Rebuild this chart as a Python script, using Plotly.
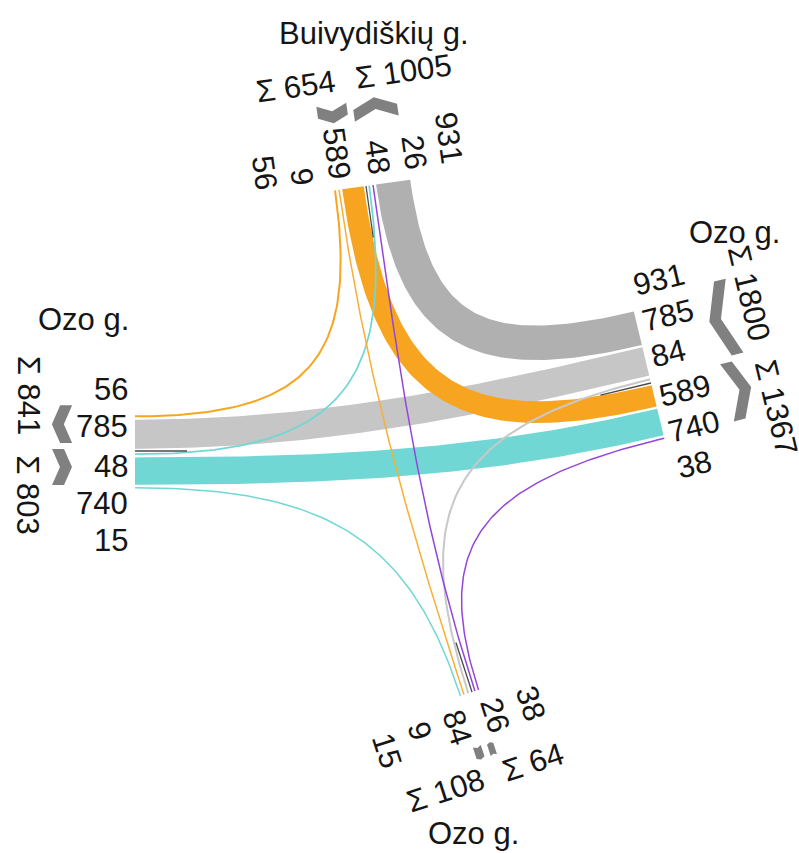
import math
import plotly.graph_objects as go

# ---------------- data ----------------
arms = ["N", "E", "S", "W"]                       # clockwise around the junction
arm_names = ["Buivydiškių g.", "Ozo g.", "Ozo g.", "Ozo g."]
origins = ["N", "N", "N", "E", "E", "E", "W", "W", "W", "S", "S"]
destinations = ["W", "S", "E", "N", "W", "S", "N", "E", "S", "N", "E"]
volumes = [56, 9, 589, 931, 785, 84, 48, 740, 15, 26, 38]

# ---------------- styling / geometry ----------------
FIG_W, FIG_H = 799, 853
FONT = "Liberation Sans, Arial, sans-serif"
FS = 31
SCALE = 0.037                # px per vehicle
GAP = 2.3
MINW = 1.5
TEXT_COLOR = "#151515"
CHEV_COLOR = "#808080"

GEOM = {
    "N": dict(sep=(366, 186), ang=-98.0, lbl_gap=10, chev_off=76, sig_off=108, name=(374, 33)),
    "E": dict(sep=(651, 383), ang=-13.5, lbl_gap=6, chev_off=84, sig_off=116, name=(734, 232)),
    "S": dict(sep=(472, 692), ang=72.0, lbl_gap=12, chev_off=60, sig_off=86, name=(473, 833)),
    "W": dict(sep=(135, 451), ang=180.0, lbl_gap=7, chev_off=73, sig_off=107, name=(83, 319)),
}

COLORS = {
    ("N", "W"): "#F7A520", ("N", "S"): "#F7B030", ("N", "E"): "#F7A520",
    ("E", "N"): "#B0B0B0", ("E", "W"): "#C6C6C6", ("E", "S"): "#C8C8C8",
    ("W", "N"): "#70D7D4", ("W", "E"): "#70D7D4", ("W", "S"): "#70D7D4",
    ("S", "N"): "#9446DA", ("S", "E"): "#9446DA",
}


def frame(k):
    g = GEOM[k]
    r = math.radians(g["ang"])
    d = (math.cos(r), math.sin(r))
    left = (d[1], -d[0])
    return g["sep"], d, left


def pt(k, a, o):
    s, d, l = frame(k)
    return (s[0] + l[0] * a + d[0] * o, s[1] + l[1] * a + d[1] * o)


def turn_rank(o, dst):
    return (arms.index(dst) - arms.index(o)) % 4


def reading_vec(k):
    _, d, l = frame(k)
    if abs(l[0]) > 0.01:
        r = l if l[0] > 0 else (-l[0], -l[1])
    else:
        r = l if l[1] > 0 else (-l[0], -l[1])
    return r, (1 if r == l else -1)


def label_dir(k):
    _, d, _ = frame(k)
    return d if d[0] > 0.01 else (-d[0], -d[1])


n = len(volumes)
eff = [max(v * SCALE, MINW) for v in volumes]

# slot offsets along each arm end (positive = left of outward direction)
slot_in, slot_out = {}, {}
groups = {}
for k in arms:
    inb = sorted([i for i in range(n) if origins[i] == k], key=lambda i: turn_rank(origins[i], destinations[i]))
    outb = sorted([i for i in range(n) if destinations[i] == k], key=lambda i: turn_rank(origins[i], destinations[i]))
    pos = 0.0
    for i in inb:
        pos += GAP
        slot_in[i] = pos + eff[i] / 2
        pos += eff[i]
    pos = 0.0
    for i in outb:
        pos += GAP
        slot_out[i] = -(pos + eff[i] / 2)
        pos += eff[i]
    groups[k] = (inb, outb)


def bez(P, t):
    mt = 1 - t
    c = (mt ** 3, 3 * mt * mt * t, 3 * mt * t * t, t ** 3)
    return (sum(c[j] * P[j][0] for j in range(4)), sum(c[j] * P[j][1] for j in range(4)))


def bezd(P, t):
    mt = 1 - t
    dx = 3 * mt * mt * (P[1][0] - P[0][0]) + 6 * mt * t * (P[2][0] - P[1][0]) + 3 * t * t * (P[3][0] - P[2][0])
    dy = 3 * mt * mt * (P[1][1] - P[0][1]) + 6 * mt * t * (P[2][1] - P[1][1]) + 3 * t * t * (P[3][1] - P[2][1])
    return dx, dy


def flow_ctrl(i):
    o, dst = origins[i], destinations[i]
    P0 = pt(o, slot_in[i], 0)
    P3 = pt(dst, slot_out[i], 0)
    _, dA, _ = frame(o)
    _, dB, _ = frame(dst)
    ia = (-dA[0], -dA[1])
    ib = (-dB[0], -dB[1])
    chord = math.hypot(P3[0] - P0[0], P3[1] - P0[1])
    LA = LB = 0.35 * chord
    if turn_rank(o, dst) != 2:
        det = ia[0] * (-ib[1]) - (-ib[0]) * ia[1]
        if abs(det) > 1e-6:
            rx, ry = P3[0] - P0[0], P3[1] - P0[1]
            s = (rx * (-ib[1]) - (-ib[0]) * ry) / det
            u = (ia[0] * ry - ia[1] * rx) / det
            if s > 0 and u > 0:
                LA, LB = 0.75 * s, 0.75 * u
    P1 = (P0[0] + ia[0] * LA, P0[1] + ia[1] * LA)
    P2 = (P3[0] + ib[0] * LB, P3[1] + ib[1] * LB)
    return [P0, P1, P2, P3]


fig = go.Figure()
NS = 90
for i in sorted(range(n), key=lambda i: -volumes[i]):
    P = flow_ctrl(i)
    col = COLORS[(origins[i], destinations[i])]
    w = volumes[i] * SCALE
    if w >= 4:
        lp, rp = [], []
        for j in range(NS + 1):
            t = j / NS
            x, y = bez(P, t)
            tx, ty = bezd(P, t)
            m = math.hypot(tx, ty)
            nx, ny = -ty / m, tx / m
            lp.append((x + nx * w / 2, y + ny * w / 2))
            rp.append((x - nx * w / 2, y - ny * w / 2))
        poly = lp + rp[::-1] + [lp[0]]
        fig.add_trace(go.Scatter(x=[p[0] for p in poly], y=[p[1] for p in poly], mode="lines",
                                 fill="toself", fillcolor=col, line=dict(width=0, color=col),
                                 hoverinfo="skip"))
    else:
        pts = [bez(P, j / NS) for j in range(NS + 1)]
        fig.add_trace(go.Scatter(x=[p[0] for p in pts], y=[p[1] for p in pts], mode="lines",
                                 line=dict(width=min(max(w, MINW), 2.0), color=col), hoverinfo="skip"))

# centre separators at each arm end
for k in arms:
    a = pt(k, 0, 0)
    b = pt(k, 0, -52)
    fig.add_trace(go.Scatter(x=[a[0], b[0]], y=[a[1], b[1]], mode="lines",
                             line=dict(width=1.3, color="#4a4a4a"), hoverinfo="skip"))

annotations = []


def add_text(txt, xy, ang, size=FS):
    annotations.append(dict(x=xy[0], y=xy[1], xref="x", yref="y", text=txt, showarrow=False,
                            textangle=ang, xanchor="center", yanchor="middle", borderpad=0,
                            font=dict(family=FONT, size=size, color=TEXT_COLOR)))


for k in arms:
    inb, outb = groups[k]
    r, rl = reading_vec(k)
    q = label_dir(k)
    q_ang = math.degrees(math.atan2(q[1], q[0]))
    r_ang = math.degrees(math.atan2(r[1], r[0]))
    shift = -5 * rl
    g = GEOM[k]
    # volume labels
    for sig, lst in ((1, inb), (-1, outb)):
        for idx, i in enumerate(lst):
            along = sig * (20 + 37 * idx) + shift
            ln = len(str(volumes[i])) * 0.556 * FS
            c = pt(k, along, g["lbl_gap"] + ln / 2)
            add_text(str(volumes[i]), c, q_ang)
    # sums, chevrons
    for sig, lst in ((1, inb), (-1, outb)):
        tot = sum(volumes[i] for i in lst)
        txt = "Σ " + str(tot)
        ln = (0.592 + 0.278 + 0.556 * len(str(tot))) * FS
        sgn = sig * rl
        rho = (5 + ln / 2) if sgn > 0 else (-16 - ln / 2)
        c = pt(k, rho * rl, g["sig_off"])
        add_text(txt, c, r_ang)
        L = 0.04 * tot + 4
        a0 = sig * 3 + shift
        a1 = sig * (3 + L) + shift
        am = (a0 + a1) / 2
        tau = -1 if sig > 0 else 1
        h = min(0.22 * L, 14)
        t = 12
        co = g["chev_off"]
        loc = [(a0, co - tau * h / 2 + t / 2), (am, co + tau * h / 2 + t / 2), (a1, co - tau * h / 2 + t / 2),
               (a1, co - tau * h / 2 - t / 2), (am, co + tau * h / 2 - t / 2), (a0, co - tau * h / 2 - t / 2),
               (a0, co - tau * h / 2 + t / 2)]
        pp = [pt(k, a, o) for a, o in loc]
        fig.add_trace(go.Scatter(x=[p[0] for p in pp], y=[p[1] for p in pp], mode="lines", fill="toself",
                                 fillcolor=CHEV_COLOR, line=dict(width=0, color=CHEV_COLOR), hoverinfo="skip"))
    add_text(arm_names[arms.index(k)], g["name"], 0)

fig.update_layout(
    width=FIG_W, height=FIG_H,
    margin=dict(l=0, r=0, t=0, b=0),
    paper_bgcolor="white", plot_bgcolor="white", showlegend=False,
    xaxis=dict(range=[0, FIG_W], visible=False, fixedrange=True),
    yaxis=dict(range=[FIG_H, 0], visible=False, fixedrange=True),
    annotations=annotations,
)
fig.write_html("out.html", config={"displayModeBar": False},
               post_script="document.body.style.margin='0';document.body.style.overflow='hidden';")
